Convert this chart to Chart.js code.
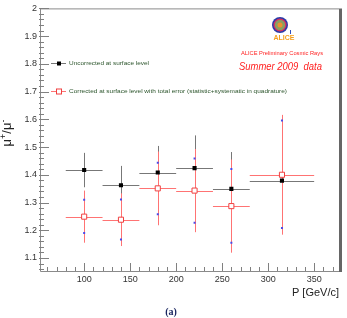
<!DOCTYPE html>
<html>
<head>
<meta charset="utf-8">
<script src="https://cdn.jsdelivr.net/npm/chart.js@4.4.0/dist/chart.umd.min.js"></script>
<style>
html, body { margin: 0; padding: 0; background: #fff; }
</style>
</head>
<body>
<canvas id="muChart" width="347" height="318"></canvas>
<script>
// momentum bins (GeV/c)
const pCenters = [100, 140, 180, 220, 260, 315];
const binLow = [80, 120, 160, 200, 240, 280];
const binHigh = [120, 160, 200, 240, 280, 350];

// mu+/mu- uncorrected at surface level
const uncorrected = [1.417, 1.362, 1.408, 1.424, 1.349, 1.379];
const uncorrectedErr = [0.062, 0.07, 0.096, 0.118, 0.133, 0.15];

// corrected at surface level, total error
const corrected = [1.249, 1.238, 1.351, 1.343, 1.287, 1.400];
const correctedErr = [0.094, 0.095, 0.133, 0.15, 0.168, 0.216];

// little blue markers on the corrected bars
const statHigh = [1.310, 1.311, 1.443, 1.459, 1.421, 1.596];
const statLow = [1.190, 1.167, 1.258, 1.227, 1.155, 1.208];

// axis ticks
const xTicks = [100, 150, 200, 250, 300, 350];
const yTicks = [1.1, 1.2, 1.3, 1.4, 1.5, 1.6, 1.7, 1.8, 1.9, 2];

const FONT = '"Liberation Sans", Arial, sans-serif';

// draw text squeezed/stretched to a given width
function fitText(ctx, text, x, y, width) {
    const w = ctx.measureText(text).width;
    ctx.save();
    ctx.translate(x, y);
    ctx.scale(width / w, 1);
    ctx.fillText(text, 0, 0);
    ctx.restore();
}

const rootStyle = {
    id: 'rootStyle',
    beforeDatasetsDraw(chart) {
        const ctx = chart.ctx;
        const x = chart.scales.x;
        const y = chart.scales.y;
        ctx.save();
        ctx.lineWidth = 1;

        // uncorrected error bars
        ctx.strokeStyle = '#777777';
        pCenters.forEach((p, i) => {
            const px = Math.round(x.getPixelForValue(p)) + 0.5;
            const py = Math.round(y.getPixelForValue(uncorrected[i])) + 0.5;
            ctx.beginPath();
            ctx.moveTo(x.getPixelForValue(binLow[i]), py);
            ctx.lineTo(x.getPixelForValue(binHigh[i]), py);
            ctx.moveTo(px, y.getPixelForValue(uncorrected[i] + uncorrectedErr[i]));
            ctx.lineTo(px, y.getPixelForValue(uncorrected[i] - uncorrectedErr[i]));
            ctx.stroke();
        });

        // corrected error bars
        ctx.strokeStyle = '#ff7373';
        pCenters.forEach((p, i) => {
            const px = Math.round(x.getPixelForValue(p)) + 0.5;
            const py = Math.round(y.getPixelForValue(corrected[i])) + 0.5;
            ctx.beginPath();
            ctx.moveTo(x.getPixelForValue(binLow[i]), py);
            ctx.lineTo(x.getPixelForValue(binHigh[i]), py);
            ctx.moveTo(px, y.getPixelForValue(corrected[i] + correctedErr[i]));
            ctx.lineTo(px, y.getPixelForValue(corrected[i] - correctedErr[i]));
            ctx.stroke();
        });
        ctx.restore();
    },
    afterDraw(chart) {
        const ctx = chart.ctx;
        const a = chart.chartArea;
        const x = chart.scales.x;
        const y = chart.scales.y;
        ctx.save();

        // frame
        ctx.strokeStyle = '#8a8a8a';
        ctx.lineWidth = 1;
        ctx.beginPath();
        ctx.moveTo(a.left + 0.5, a.top + 0.5);
        ctx.lineTo(a.right, a.top + 0.5);
        ctx.moveTo(a.left + 0.5, a.top);
        ctx.lineTo(a.left + 0.5, a.bottom + 0.5);
        ctx.lineTo(a.right, a.bottom + 0.5);
        ctx.stroke();
        ctx.strokeStyle = '#666666';
        ctx.lineWidth = 3;
        ctx.beginPath();
        ctx.moveTo(a.right + 1.5, a.top);
        ctx.lineTo(a.right + 1.5, a.bottom + 1);
        ctx.stroke();

        // inward ticks
        ctx.strokeStyle = '#808080';
        ctx.lineWidth = 1;
        ctx.beginPath();
        for (let v = 60; v <= 370; v += 10) {
            const px = Math.round(x.getPixelForValue(v)) + 0.5;
            const len = v % 50 === 0 ? 8 : 4;
            ctx.moveTo(px, a.bottom);
            ctx.lineTo(px, a.bottom - len);
        }
        for (let k = 53; k <= 100; k++) {
            const v = k * 0.02;
            if (v < y.min) continue;
            const py = Math.round(y.getPixelForValue(v)) + 0.5;
            const len = k % 5 === 0 ? 9 : 4;
            ctx.moveTo(a.left - 1, py);
            ctx.lineTo(a.left + len, py);
        }
        ctx.stroke();

        // legend
        ctx.lineWidth = 1;
        ctx.strokeStyle = '#777777';
        ctx.beginPath();
        ctx.moveTo(51, 63.5);
        ctx.lineTo(66, 63.5);
        ctx.stroke();
        ctx.fillStyle = '#000';
        ctx.fillRect(57, 61.5, 4, 4);
        ctx.strokeStyle = '#ff7373';
        ctx.beginPath();
        ctx.moveTo(51, 91.5);
        ctx.lineTo(66, 91.5);
        ctx.stroke();
        ctx.fillStyle = '#fff';
        ctx.fillRect(56.5, 89, 5, 5);
        ctx.strokeStyle = '#f04040';
        ctx.strokeRect(56.5, 89, 5, 5);

        ctx.fillStyle = '#2c552c';
        ctx.font = '6px ' + FONT;
        ctx.textBaseline = 'middle';
        ctx.textAlign = 'left';
        fitText(ctx, 'Uncorrected at surface level', 69, 63, 80);
        fitText(ctx, 'Corrected at surface level with total error (statistic+systematic in quadrature)', 69, 91, 218);

        // ALICE labels
        ctx.fillStyle = '#ff2020';
        ctx.font = '6px ' + FONT;
        fitText(ctx, 'ALICE Preliminary Cosmic Rays', 241, 53, 82);
        ctx.font = 'italic 10px ' + FONT;
        fitText(ctx, 'Summer 2009  data', 239, 67, 83);

        // ALICE logo
        const cx = 280, cy = 25;
        ctx.fillStyle = '#2a3aa8';
        ctx.beginPath();
        ctx.arc(cx, cy, 8, 0, Math.PI * 2);
        ctx.fill();
        ctx.fillStyle = '#d83060';
        ctx.beginPath();
        ctx.arc(cx, cy, 6.5, 0, Math.PI * 2);
        ctx.fill();
        ctx.fillStyle = '#8aa060';
        ctx.beginPath();
        ctx.arc(cx, cy, 5.2, 0, Math.PI * 2);
        ctx.fill();
        ctx.fillStyle = '#f09030';
        ctx.beginPath();
        ctx.arc(cx, cy, 2.5, 0, Math.PI * 2);
        ctx.fill();
        ctx.strokeStyle = '#3050c0';
        ctx.beginPath();
        ctx.moveTo(290.5, 30);
        ctx.lineTo(290.5, 34);
        ctx.stroke();
        ctx.fillStyle = '#f5a020';
        ctx.font = 'bold 7px ' + FONT;
        ctx.textAlign = 'center';
        ctx.fillText('ALICE', 284, 38);

        // axis titles
        ctx.fillStyle = '#222';
        ctx.font = '11px ' + FONT;
        ctx.textAlign = 'right';
        ctx.textBaseline = 'middle';
        ctx.fillText('P [GeV/c]', a.right, 293);

        ctx.save();
        ctx.translate(11, 133);
        ctx.rotate(-Math.PI / 2);
        ctx.textAlign = 'left';
        ctx.textBaseline = 'alphabetic';
        const big = '13px ' + FONT, small = '9px ' + FONT;
        const parts = [['\u03bc', big, 0], ['+', small, -5], ['/', big, 0], ['\u03bc', big, 0], ['-', small, -5]];
        let total = 0;
        parts.forEach(pt => { ctx.font = pt[1]; total += ctx.measureText(pt[0]).width; });
        let tx = -total / 2;
        parts.forEach(pt => {
            ctx.font = pt[1];
            ctx.fillText(pt[0], tx, pt[2]);
            tx += ctx.measureText(pt[0]).width;
        });
        ctx.restore();

        // caption
        ctx.fillStyle = '#1a2660';
        ctx.font = 'bold 10px "Liberation Serif", "DejaVu Serif", serif';
        ctx.textAlign = 'center';
        ctx.textBaseline = 'middle';
        ctx.fillText('(a)', 171, 312);

        ctx.restore();
    }
};

const ctx = document.getElementById('muChart').getContext('2d');

const chart = new Chart(ctx, {
    type: 'scatter',
    data: {
        datasets: [
            {
                label: 'Uncorrected at surface level',
                data: pCenters.map((p, i) => ({ x: p, y: uncorrected[i] })),
                pointStyle: 'rect',
                pointRadius: 2.9,
                backgroundColor: '#000',
                borderColor: '#000',
                borderWidth: 0
            },
            {
                label: 'Corrected at surface level with total error',
                data: pCenters.map((p, i) => ({ x: p, y: corrected[i] })),
                pointStyle: 'rect',
                pointRadius: 3.6,
                backgroundColor: '#fff',
                borderColor: '#f04040',
                borderWidth: 1
            },
            {
                label: 'stat',
                data: pCenters.map((p, i) => ({ x: p, y: statHigh[i] }))
                    .concat(pCenters.map((p, i) => ({ x: p, y: statLow[i] }))),
                pointStyle: 'rect',
                pointRadius: 1.4,
                backgroundColor: '#4a4ae8',
                borderColor: '#4a4ae8',
                borderWidth: 0
            }
        ]
    },
    options: {
        responsive: false,
        animation: false,
        events: [],
        layout: { padding: { left: 0, top: 7, right: 8, bottom: 0 } },
        plugins: {
            legend: { display: false },
            tooltip: { enabled: false }
        },
        scales: {
            x: {
                type: 'linear',
                min: 52,
                max: 377,
                grid: { display: false, drawTicks: false },
                border: { display: false },
                afterBuildTicks: scale => { scale.ticks = xTicks.map(v => ({ value: v })); },
                afterFit: scale => { scale.height = 47; },
                ticks: {
                    padding: 3,
                    maxRotation: 0,
                    color: '#333',
                    font: { family: FONT, size: 9 },
                    callback: v => String(v)
                }
            },
            y: {
                type: 'linear',
                min: 1.053,
                max: 2.0,
                grid: { display: false, drawTicks: false },
                border: { display: false },
                afterBuildTicks: scale => { scale.ticks = yTicks.map(v => ({ value: v })); },
                afterFit: scale => { scale.width = 40; },
                ticks: {
                    padding: 3,
                    color: '#333',
                    font: { family: FONT, size: 9 },
                    callback: v => String(Math.round(v * 10) / 10)
                }
            }
        }
    },
    plugins: [rootStyle]
});
</script>
</body>
</html>
